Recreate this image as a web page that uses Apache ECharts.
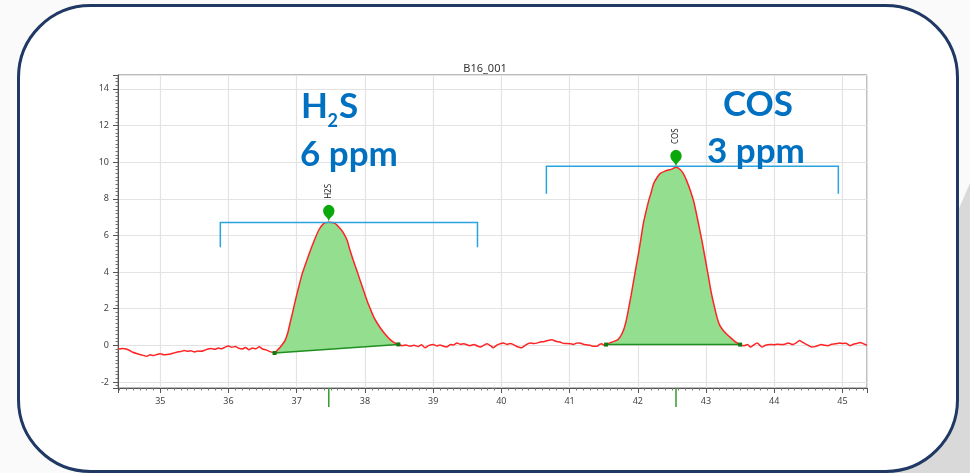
<!DOCTYPE html>
<html>
<head>
<meta charset="utf-8">
<script src="https://cdn.jsdelivr.net/npm/echarts@6/dist/echarts.min.js"></script>
<style>
  html, body { margin: 0; padding: 0; background: #fafafa; }
  #chart { width: 970px; height: 473px; }
</style>
</head>
<body>
<div id="chart"></div>
<script>
// chromatogram trace (retention time, signal)
const traceX = [
  34.38, 34.45, 34.5, 34.55, 34.6, 34.65, 34.7, 34.75, 34.8, 34.85, 34.9, 34.95,
  35.0, 35.05, 35.1, 35.15, 35.2, 35.25, 35.3, 35.35, 35.4, 35.45, 35.5, 35.55,
  35.6, 35.65, 35.7, 35.75, 35.8, 35.85, 35.9, 35.95, 36.0, 36.05, 36.1, 36.15,
  36.2, 36.25, 36.3, 36.35, 36.4, 36.45, 36.5, 36.55, 36.6, 36.675,
  36.72, 36.76, 36.8, 36.83, 36.87, 36.9, 36.94, 36.98, 37.03, 37.08, 37.14, 37.2,
  37.26, 37.32, 37.39, 37.47, 37.56, 37.64, 37.69, 37.74, 37.78, 37.83, 37.88, 37.93,
  37.98, 38.03, 38.08, 38.13, 38.19, 38.25, 38.31, 38.37, 38.43, 38.49,
  38.55, 38.6, 38.66, 38.72, 38.78, 38.83, 38.88, 38.94, 39.0, 39.05, 39.1, 39.15,
  39.2, 39.26, 39.3, 39.35, 39.4, 39.45, 39.5, 39.54, 39.6, 39.65, 39.69, 39.74,
  39.79, 39.84, 39.88, 39.94, 39.98, 40.03, 40.08, 40.13, 40.17, 40.22, 40.26, 40.3,
  40.35, 40.42, 40.48, 40.52, 40.57, 40.62, 40.68, 40.74, 40.8, 40.86, 40.92, 40.96,
  41.01, 41.06, 41.1, 41.15, 41.2, 41.25, 41.3, 41.35, 41.4, 41.44, 41.47, 41.5, 41.535,
  41.6, 41.69, 41.74, 41.79, 41.83, 41.86, 41.9, 41.94, 41.975, 42.01, 42.045, 42.08,
  42.12, 42.16, 42.2, 42.23, 42.28, 42.33, 42.39, 42.45, 42.5, 42.56, 42.62, 42.67,
  42.72, 42.77, 42.82, 42.86, 42.9, 42.94, 42.975, 43.01, 43.045, 43.08, 43.12, 43.16,
  43.2, 43.25, 43.3, 43.35, 43.42, 43.5,
  43.56, 43.61, 43.65, 43.7, 43.75, 43.79, 43.82, 43.87, 43.94, 44.0, 44.04, 44.08,
  44.13, 44.17, 44.21, 44.25, 44.28, 44.33, 44.37, 44.41, 44.45, 44.5, 44.55, 44.6,
  44.65, 44.69, 44.74, 44.79, 44.84, 44.9, 44.96, 45.0, 45.05, 45.11, 45.16, 45.21,
  45.26, 45.31, 45.36
];
const traceY = [
  -0.2, -0.17, -0.2, -0.28, -0.38, -0.45, -0.5, -0.55, -0.6, -0.52, -0.56, -0.5,
  -0.46, -0.52, -0.5, -0.47, -0.42, -0.36, -0.34, -0.28, -0.33, -0.3, -0.36, -0.31,
  -0.33, -0.27, -0.2, -0.18, -0.22, -0.15, -0.19, -0.1, -0.04, -0.1, -0.07, -0.16,
  -0.2, -0.12, -0.24, -0.15, -0.19, -0.08, -0.2, -0.25, -0.33, -0.42,
  -0.25, -0.09, 0.1, 0.27, 0.7, 1.18, 1.8, 2.45, 3.2, 3.9, 4.55, 5.18,
  5.75, 6.27, 6.63, 6.72, 6.66, 6.36, 6.1, 5.72, 5.2, 4.63, 4.1, 3.54,
  3.0, 2.45, 1.98, 1.54, 1.15, 0.82, 0.55, 0.31, 0.15, 0.05,
  -0.02, 0.02, -0.05, 0.0, -0.06, 0.03, -0.13, 0.0, 0.05, -0.03, 0.02, -0.05,
  -0.09, 0.05, 0.02, 0.13, 0.06, 0.09, 0.02, -0.02, 0.05, -0.04, -0.09, 0.0,
  0.09, -0.02, -0.13, 0.02, 0.08, 0.13, 0.05, 0.1, 0.05, -0.05, -0.1, -0.13,
  0.0, 0.13, 0.1, 0.12, 0.18, 0.2, 0.26, 0.3, 0.22, 0.18, 0.1, 0.1,
  0.09, 0.05, 0.12, 0.13, 0.06, 0.03, 0.0, -0.05, -0.05, 0.05, 0.09, 0.02, 0.04,
  0.15, 0.27, 0.45, 0.82, 1.35, 1.9, 2.7, 3.54, 4.3, 5.0, 5.8, 6.63,
  7.3, 7.9, 8.4, 8.81, 9.15, 9.39, 9.5, 9.57, 9.62, 9.72, 9.6, 9.36,
  8.95, 8.45, 7.85, 7.18, 6.45, 5.72, 5.0, 4.27, 3.55, 2.82, 2.15, 1.54,
  1.1, 0.82, 0.62, 0.45, 0.22, 0.04,
  -0.02, 0.05, -0.09, 0.02, 0.13, 0.0, -0.09, 0.0, 0.05, 0.03, 0.06, 0.05,
  0.04, 0.08, 0.13, 0.06, 0.05, 0.15, 0.27, 0.18, 0.09, 0.0, -0.09, -0.07,
  0.0, 0.05, 0.0, -0.02, 0.06, 0.08, 0.13, 0.1, 0.12, -0.02, 0.06, 0.1,
  0.16, 0.08, 0.0
];

// integrated peaks
const peakNames = ['H2S', 'COS'];
const apexX = [37.47, 42.56];
const apexY = [6.72, 9.72];
const startX = [36.675, 41.535];
const endX = [38.49, 43.5];

// blue brackets over each peak window
const bracketX1 = [35.88, 40.66];
const bracketX2 = [39.65, 44.94];
const bracketTop = [6.7, 9.78];
const bracketBottom = [5.36, 8.27];

const xMin = 34.38, xMax = 45.36;
const yMin = -2.33, yMax = 14.76;

function idxOf(x) {
  return traceX.findIndex(v => Math.abs(v - x) < 1e-9);
}

var chart = echarts.init(document.getElementById('chart'));

var smallFont = '"Noto Sans", sans-serif';
var bigFont = 'bold 35px Lato, sans-serif';
var blue = '#0070c0';

var option = {
  backgroundColor: '#fafafa',
  animation: false,
  title: {
    text: 'B16_001',
    left: 'center',
    top: 58,
    textStyle: { fontSize: 11, fontWeight: 'normal', color: '#333', fontFamily: smallFont }
  },
  grid: {
    left: 118, right: 103, top: 75, bottom: 85,
    show: true, borderColor: '#777', borderWidth: 1, backgroundColor: '#fff'
  },
  xAxis: {
    type: 'value',
    min: xMin, max: xMax,
    splitNumber: 10,
    axisLine: { show: true, onZero: false, lineStyle: { color: '#555' } },
    axisTick: { show: true, length: 5, lineStyle: { color: '#555' } },
    minorTick: { show: true, splitNumber: 10, length: 2.5, lineStyle: { color: '#777' } },
    axisLabel: {
      margin: 9, fontSize: 9, color: '#444', fontFamily: smallFont,
      formatter: v => (Math.abs(v - Math.round(v)) < 1e-6 ? String(Math.round(v)) : '')
    },
    splitLine: { show: true, lineStyle: { color: '#e3e3e3', width: 1.2 } }
  },
  yAxis: {
    type: 'value',
    min: yMin, max: yMax,
    splitNumber: 8,
    axisLine: { show: true, onZero: false, lineStyle: { color: '#555' } },
    axisTick: { show: true, length: 5, lineStyle: { color: '#555' } },
    minorTick: { show: true, splitNumber: 10, length: 2.5, lineStyle: { color: '#777' } },
    axisLabel: {
      margin: 9, fontSize: 9, color: '#444', fontFamily: smallFont,
      formatter: v => (Math.abs(v - Math.round(v)) < 1e-6 ? String(Math.round(v)) : '')
    },
    splitLine: { show: true, lineStyle: { color: '#e3e3e3', width: 1.2 } }
  },
  graphic: [
    { type: 'polygon', z: -20, shape: { points: [[970, 183], [970, 473], [845, 473]] },
      style: { fill: '#d9d9d9' } },
    { type: 'rect', z: -10, shape: { x: 18.5, y: 5.5, width: 939, height: 466, r: 72 },
      style: { fill: '#fff', stroke: '#1f3864', lineWidth: 3 } },
    { type: 'text', z: 100, x: 301, y: 107, style: { text: 'H', font: bigFont, fill: blue, verticalAlign: 'middle' } },
    { type: 'text', z: 100, x: 327.5, y: 121, style: { text: '2', font: 'bold 18px Lato, sans-serif', fill: blue, verticalAlign: 'middle' } },
    { type: 'text', z: 100, x: 339, y: 107, style: { text: 'S', font: bigFont, fill: blue, verticalAlign: 'middle' } },
    { type: 'text', z: 100, x: 300, y: 155, style: { text: '6 ppm', font: bigFont, fill: blue, verticalAlign: 'middle' } },
    { type: 'text', z: 100, x: 758, y: 105, style: { text: 'COS', font: bigFont, fill: blue, align: 'center', verticalAlign: 'middle' } },
    { type: 'text', z: 100, x: 707, y: 152, style: { text: '3 ppm', font: bigFont, fill: blue, verticalAlign: 'middle' } }
  ],
  series: [
    {
      // green shaded peak areas
      type: 'custom',
      z: 1,
      data: apexX.map((x, i) => [x, apexY[i]]),
      renderItem: function (params, api) {
        var i = params.dataIndex;
        var a = idxOf(startX[i]), b = idxOf(endX[i]);
        var pts = [];
        for (var k = a; k <= b; k++) pts.push(api.coord([traceX[k], traceY[k]]));
        return { type: 'polygon', shape: { points: pts }, style: { fill: '#93de8f' } };
      }
    },
    {
      type: 'line',
      z: 3,
      data: traceX.map((x, k) => [x, traceY[k]]),
      showSymbol: false,
      smooth: 0.2,
      lineStyle: { color: '#ff2424', width: 1.5 }
    },
    {
      // integration baselines with end markers
      type: 'custom',
      z: 4,
      data: apexX.map((x, i) => [x, apexY[i]]),
      renderItem: function (params, api) {
        var i = params.dataIndex;
        var p1 = api.coord([startX[i], traceY[idxOf(startX[i])]]);
        var p2 = api.coord([endX[i], traceY[idxOf(endX[i])]]);
        return {
          type: 'group',
          children: [
            { type: 'line', shape: { x1: p1[0], y1: p1[1], x2: p2[0], y2: p2[1] },
              style: { stroke: '#1f8f1f', lineWidth: 1.5 } },
            { type: 'rect', shape: { x: p1[0] - 2, y: p1[1] - 2, width: 4, height: 4 }, style: { fill: '#137a13' } },
            { type: 'rect', shape: { x: p2[0] - 2, y: p2[1] - 2, width: 4, height: 4 }, style: { fill: '#137a13' } }
          ]
        };
      }
    },
    {
      // blue brackets
      type: 'custom',
      z: 5,
      data: apexX.map((x, i) => [x, apexY[i]]),
      renderItem: function (params, api) {
        var i = params.dataIndex;
        var pts = [
          api.coord([bracketX1[i], bracketBottom[i]]),
          api.coord([bracketX1[i], bracketTop[i]]),
          api.coord([bracketX2[i], bracketTop[i]]),
          api.coord([bracketX2[i], bracketBottom[i]])
        ];
        return { type: 'polyline', shape: { points: pts }, style: { stroke: '#2aa4dd', lineWidth: 1.5, fill: null } };
      }
    },
    {
      // retention-time ticks under the axis
      type: 'custom',
      z: 5,
      clip: false,
      data: apexX.map((x, i) => [x, apexY[i]]),
      renderItem: function (params, api) {
        var i = params.dataIndex;
        var p = api.coord([apexX[i], yMin]);
        return { type: 'line', shape: { x1: p[0], y1: p[1], x2: p[0], y2: p[1] + 19 },
          style: { stroke: '#2f9e2f', lineWidth: 1.5 } };
      }
    },
    {
      type: 'scatter',
      z: 6,
      data: apexX.map((x, i) => ({ value: [x, apexY[i]], name: peakNames[i] })),
      symbol: 'pin',
      symbolSize: [19, 20],
      itemStyle: { color: '#0aa80a', opacity: 1 },
      label: {
        show: true,
        formatter: '{b}',
        position: 'top',
        distance: 6,
        rotate: 90,
        align: 'left',
        verticalAlign: 'middle',
        fontSize: 8,
        color: '#222',
        fontFamily: smallFont
      }
    }
  ]
};

chart.setOption(option);
</script>
</body>
</html>
